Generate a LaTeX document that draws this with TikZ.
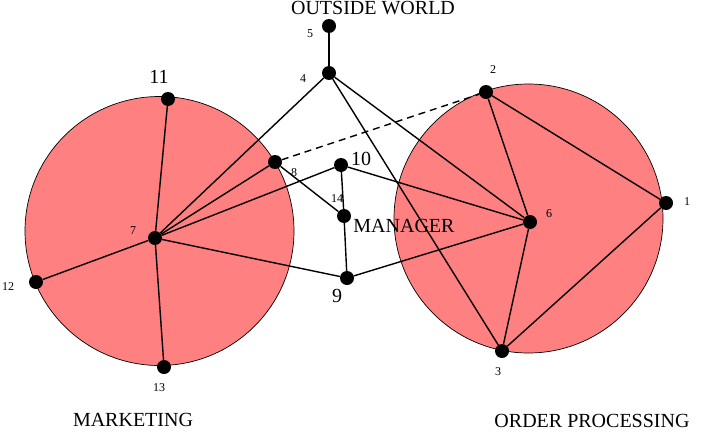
\documentclass[tikz,border=0pt]{standalone}
\usepackage{fontspec}
\setmainfont{Liberation Serif}
\usepackage{tikz}
\usetikzlibrary{positioning}
\definecolor{dept}{RGB}{255,128,128}

\begin{document}
\begin{tikzpicture}
	[
		x = 1pt, y = -1pt,
		dept/.style = {fill = dept, draw = black, line width = 0.7pt},
		dot/.style = {circle, minimum size = 14pt, inner sep = 0pt, fill = black},
		small/.style = {inner sep = 0pt, font = \fontsize{12}{14}\selectfont},
		big/.style = {inner sep = 0pt, font = \fontsize{20}{23}\selectfont},
		link/.style = {line width = 1.4pt},
	]
	\useasboundingbox (0, 0) rectangle (701, 431);
	% departments
	\draw [dept] (159.5, 231) circle (134.5);
	\draw [dept] (528.5, 218.5) circle (134.5);
	% nodes
	\node (n1) [dot] at (666, 203) {};
	\node (n2) [dot] at (486, 92) {};
	\node (n3) [dot] at (502, 351) {};
	\node (n4) [dot] at (329, 73) {};
	\node (n5) [dot] at (329, 26) {};
	\node (n6) [dot] at (530, 222) {};
	\node (n7) [dot] at (155, 238) {};
	\node (n8) [dot] at (275, 162) {};
	\node (n9) [dot] at (347, 278) {};
	\node (n10) [dot] at (341, 165) {};
	\node (n11) [dot] at (168, 99) {};
	\node (n12) [dot] at (36, 282) {};
	\node (n13) [dot] at (164, 367) {};
	\node (n14) [dot] at (344, 216) {};
	% links
	\foreach \a/\b in {n5/n4, n4/n7, n4/n6, n4/n3, n2/n1, n2/n6, n1/n3, n6/n3,
		n10/n6, n9/n6, n7/n11, n7/n12, n7/n13, n7/n8, n7/n10, n7/n9,
		n8/n14, n10/n14, n14/n9}
		\draw [link] (\a) -- (\b);
	\draw [link, dash pattern = on 7pt off 5pt] (n8) -- (n2);
	% labels
	\node (l1) [small] at (687, 202) {1};
	\node (l2) [small] at (493, 70) {2};
	\node (l3) [small] at (498, 372) {3};
	\node (l4) [small] at (303, 79) {4};
	\node (l5) [small] at (310, 34) {5};
	\node (l6) [small] at (549, 214) {6};
	\node (l7) [small] at (133, 231) {7};
	\node (l8) [small] at (294, 173) {8};
	\node (l9) [big] at (337, 296) {9};
	\node (l10) [big] at (361, 159) {10};
	\node (l11) [big] at (159, 77) {11};
	\node (l12) [small] at (8, 287) {12};
	\node (l13) [small] at (159, 388) {13};
	\node (l14) [small] at (337, 199) {14};
	% groups
	\node (outside) [big] at (373, 8) {OUTSIDE WORLD};
	\node (manager) [big] at (404, 226) {MANAGER};
	\node (marketing) [big] at (133, 420) {MARKETING};
	\node (orders) [big] at (592, 421) {ORDER PROCESSING};
\end{tikzpicture}
\end{document}
